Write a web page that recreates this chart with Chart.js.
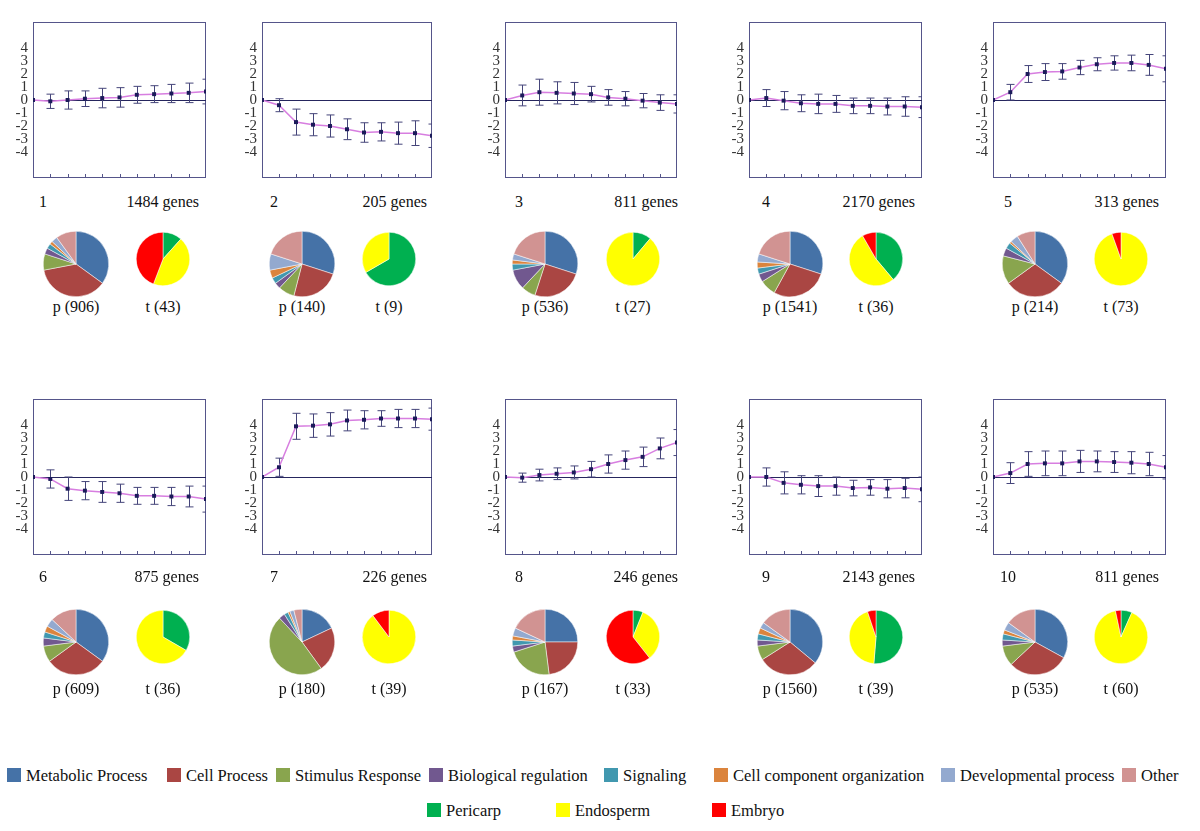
<!DOCTYPE html>
<html>
<head>
<meta charset="utf-8">
<script src="https://cdn.jsdelivr.net/npm/chart.js@4.4.1/dist/chart.umd.min.js"></script>
<style>
  body { margin: 0; background: #fff; width: 1200px; height: 831px; position: relative; overflow: hidden;
         font-family: "Liberation Serif", "Times New Roman", serif; color: #111; }
  canvas { position: absolute; }
  .lbl { position: absolute; font-size: 16px; line-height: 16px; white-space: nowrap; }
  .key { position: absolute; font-size: 16.5px; line-height: 16px; white-space: nowrap; }
  .key i { display: inline-block; width: 14px; height: 14px; margin-right: 5px; vertical-align: -1px; }
</style>
</head>
<body>
<script>
// === DATA ===
const clusterIds = [1, 2, 3, 4, 5, 6, 7, 8, 9, 10];
const geneCounts = [1484, 205, 811, 2170, 313, 875, 226, 246, 2143, 811];
const timePoints = [0, 1, 2, 3, 4, 5, 6, 7, 8, 9, 10];
const yTickLabels = [-4, -3, -2, -1, 0, 1, 2, 3, 4];

// mean log ratio per time point, and its error
const profile1 = [0, -0.1, 0, 0.1, 0.15, 0.2, 0.4, 0.45, 0.5, 0.55, 0.65];
const err1 = [0, 0.55, 0.7, 0.6, 0.75, 0.75, 0.65, 0.65, 0.7, 0.75, 0.95];
const profile2 = [0, -0.4, -1.7, -1.9, -2.0, -2.25, -2.5, -2.45, -2.55, -2.55, -2.75];
const err2 = [0, 0.5, 1.0, 0.85, 0.85, 0.8, 0.75, 0.7, 0.85, 0.95, 0.9];
const profile3 = [0, 0.35, 0.6, 0.55, 0.5, 0.45, 0.2, 0.1, -0.05, -0.2, -0.3];
const err3 = [0, 0.8, 1.0, 0.85, 0.85, 0.6, 0.6, 0.55, 0.55, 0.6, 0.7];
const profile4 = [0, 0.15, -0.05, -0.25, -0.3, -0.3, -0.45, -0.45, -0.5, -0.5, -0.55];
const err4 = [0, 0.65, 0.7, 0.65, 0.75, 0.65, 0.6, 0.6, 0.65, 0.75, 0.8];
const profile5 = [0, 0.6, 2.0, 2.15, 2.2, 2.5, 2.75, 2.85, 2.85, 2.7, 2.4];
const err5 = [0, 0.6, 0.65, 0.65, 0.6, 0.55, 0.5, 0.55, 0.6, 0.8, 1.0];
const profile6 = [0, -0.15, -0.9, -1.05, -1.15, -1.25, -1.45, -1.45, -1.5, -1.5, -1.7];
const err6 = [0, 0.7, 0.9, 0.7, 0.8, 0.7, 0.65, 0.65, 0.7, 0.8, 1.0];
const profile7 = [0, 0.75, 3.9, 3.95, 4.05, 4.35, 4.4, 4.5, 4.5, 4.5, 4.45];
const err7 = [0, 0.7, 1.0, 0.9, 0.9, 0.8, 0.7, 0.6, 0.7, 0.7, 0.85];
const profile8 = [0, -0.05, 0.15, 0.25, 0.35, 0.6, 1.0, 1.3, 1.55, 2.2, 2.65];
const err8 = [0, 0.35, 0.45, 0.45, 0.5, 0.6, 0.7, 0.7, 0.75, 0.8, 1.0];
const profile9 = [0, 0, -0.45, -0.6, -0.7, -0.7, -0.85, -0.8, -0.9, -0.85, -0.95];
const err9 = [0, 0.7, 0.85, 0.7, 0.8, 0.7, 0.6, 0.6, 0.7, 0.75, 0.95];
const profile10 = [0, 0.3, 1.0, 1.05, 1.05, 1.2, 1.2, 1.15, 1.1, 1.0, 0.75];
const err10 = [0, 0.8, 0.95, 0.95, 0.95, 0.85, 0.8, 0.8, 0.85, 0.9, 0.9];

// process pie: share (%) per category
const processNames = ["Metabolic Process", "Cell Process", "Stimulus Response", "Biological regulation",
  "Signaling", "Cell component organization", "Developmental process", "Other"];
const processColors = ["#4572A7", "#AA4643", "#89A54E", "#71588F", "#4198AF", "#DB843D", "#93A9CF", "#D19392"];
const pCounts = [906, 140, 536, 1541, 214, 609, 180, 167, 1560, 535];
const proc1 = [35, 37, 8, 3, 2.5, 1.5, 3, 10];
const proc2 = [30, 24, 8, 3, 3, 4, 8, 20];
const proc3 = [30, 25, 7, 10, 3, 2, 3, 20];
const proc4 = [30, 28, 8, 4, 3, 3, 4, 20];
const proc5 = [35, 30, 14, 4, 3, 1, 4, 9];
const proc6 = [35, 30, 8, 4, 3, 3, 4, 13];
const proc7 = [18, 22, 48, 3, 2, 1, 2, 4];
const proc8 = [25, 23, 22, 3, 3, 2, 4, 18];
const proc9 = [36, 30, 7, 3, 3, 3, 3, 15];
const proc10 = [33, 30, 10, 3, 3, 2, 4, 15];

// tissue pie: genes per tissue (Pericarp, Endosperm, Embryo)
const tissueNames = ["Pericarp", "Endosperm", "Embryo"];
const tissueColors = ["#00B050", "#FFFF00", "#FF0000"];
const tCounts = [43, 9, 27, 36, 73, 36, 39, 33, 39, 60];
const tissue1 = [5, 19, 19];
const tissue2 = [6, 3, 0];
const tissue3 = [3, 24, 0];
const tissue4 = [14, 19, 3];
const tissue5 = [0, 69, 4];
const tissue6 = [12, 24, 0];
const tissue7 = [0, 35, 4];
const tissue8 = [2, 11, 20];
const tissue9 = [20, 17, 2];
const tissue10 = [4, 54, 2];

const profiles = [profile1, profile2, profile3, profile4, profile5, profile6, profile7, profile8, profile9, profile10];
const errors = [err1, err2, err3, err4, err5, err6, err7, err8, err9, err10];
const procShares = [proc1, proc2, proc3, proc4, proc5, proc6, proc7, proc8, proc9, proc10];
const tissueShares = [tissue1, tissue2, tissue3, tissue4, tissue5, tissue6, tissue7, tissue8, tissue9, tissue10];

// === LAYOUT ===
const boxLeft = [33, 262, 505, 749, 993];
const boxWidth = [173, 170, 172, 173, 173];
const boxTop = [14, 391];
const boxHeight = 172;
const idLabelX = [43, 274, 519, 766, 1008];
const genesRight = [199, 427, 678, 915, 1159];
const captionY = [202, 577];
const pPieX = [76, 302, 545, 790, 1035];
const tPieX = [163, 389, 633, 876, 1121];
const pPieY = [264, 642];
const tPieY = [259, 637];
const pieLabelY = [307, 689];

const serif = '"Liberation Serif", "Times New Roman", serif';

// box, zero line, bottom ticks and error bars
const profileDecor = {
  id: "profileDecor",
  beforeDatasetsDraw(chart, args, opts) {
    const { ctx, chartArea: a, scales: { x, y } } = chart;
    ctx.save();
    ctx.strokeStyle = "#55558a";
    ctx.lineWidth = 1;
    ctx.strokeRect(a.left + 0.5, a.top + 0.5, a.width - 1, a.height - 1);
    const y0 = Math.round(y.getPixelForValue(0)) + 0.5;
    ctx.strokeStyle = "#26265e";
    ctx.beginPath(); ctx.moveTo(a.left, y0); ctx.lineTo(a.right, y0); ctx.stroke();
    ctx.strokeStyle = "#55558a";
    for (let i = 1; i < 10; i++) {
      const px = Math.round(x.getPixelForValue(i)) + 0.5;
      ctx.beginPath(); ctx.moveTo(px, a.bottom); ctx.lineTo(px, a.bottom - 4); ctx.stroke();
    }
    ctx.beginPath(); ctx.rect(a.left, a.top, a.width, a.height); ctx.clip();
    ctx.strokeStyle = "#45457a";
    const vals = chart.data.datasets[0].data;
    opts.errs.forEach((e, i) => {
      if (!e) return;
      const px = Math.round(x.getPixelForValue(vals[i].x)) + 0.5;
      const hi = y.getPixelForValue(vals[i].y + e), lo = y.getPixelForValue(vals[i].y - e);
      ctx.beginPath();
      ctx.moveTo(px, hi); ctx.lineTo(px, lo);
      ctx.moveTo(px - 4, hi); ctx.lineTo(px + 4, hi);
      ctx.moveTo(px - 4, lo); ctx.lineTo(px + 4, lo);
      ctx.stroke();
    });
    ctx.restore();
  }
};

function addText(text, x, y, align) {
  const d = document.createElement("div");
  d.className = "lbl";
  d.textContent = text;
  d.style.top = (y - 8) + "px";
  if (align === "right") { d.style.right = (1200 - x) + "px"; }
  else { d.style.left = x + "px"; d.style.transform = "translateX(-50%)"; }
  document.body.appendChild(d);
}

function makeCanvas(left, top, w, h) {
  const c = document.createElement("canvas");
  c.width = w; c.height = h;
  c.style.left = left + "px"; c.style.top = top + "px";
  c.style.width = w + "px"; c.style.height = h + "px";
  document.body.appendChild(c);
  return c;
}

function profileChart(k) {
  const col = k % 5, row = Math.floor(k / 5);
  const cv = makeCanvas(boxLeft[col] - 33, boxTop[row] - 6, boxWidth[col] + 39, boxHeight + 12);
  new Chart(cv, {
    type: "line",
    data: {
      datasets: [{
        data: timePoints.map((t, i) => ({ x: t, y: profiles[k][i] })),
        borderColor: "#d77ee0",
        borderWidth: 1.5,
        pointStyle: "rect",
        pointRadius: 2.8,
        pointBackgroundColor: "#1b1b5a",
        pointBorderColor: "#1b1b5a",
        pointBorderWidth: 0,
        tension: 0
      }]
    },
    options: {
      responsive: false,
      animation: false,
      events: [],
      layout: { padding: { top: 6, right: 6, bottom: 6, left: 0 } },
      plugins: { legend: { display: false }, tooltip: { enabled: false }, profileDecor: { errs: errors[k] } },
      scales: {
        x: { type: "linear", min: 0, max: 10, display: false },
        y: {
          min: -6, max: 6,
          afterBuildTicks: s => { s.ticks = yTickLabels.map(v => ({ value: v })); },
          afterFit: s => { s.width = 33; },
          grid: { display: false, drawTicks: false },
          border: { display: false },
          ticks: { autoSkip: false, padding: 5, color: "#333", font: { family: serif, size: 15 } }
        }
      }
    },
    plugins: [profileDecor]
  });
  addText(String(clusterIds[k]), idLabelX[col], captionY[row]);
  addText(geneCounts[k] + " genes", genesRight[col], captionY[row], "right");
}

function pieChart(cx, cy, size, values, colors) {
  const cv = makeCanvas(Math.round(cx - size / 2), Math.round(cy - size / 2), size, size);
  new Chart(cv, {
    type: "pie",
    data: { labels: values.map((v, i) => i), datasets: [{ data: values, backgroundColor: colors, borderWidth: 0.5, borderColor: "#ffffff" }] },
    options: {
      responsive: false, animation: false, events: [],
      layout: { padding: 0 },
      plugins: { legend: { display: false }, tooltip: { enabled: false } }
    }
  });
}

for (let k = 0; k < 10; k++) {
  const col = k % 5, row = Math.floor(k / 5);
  profileChart(k);
  pieChart(pPieX[col], pPieY[row], 66, procShares[k], processColors);
  pieChart(tPieX[col], tPieY[row], 54, tissueShares[k], tissueColors);
  addText("p (" + pCounts[k] + ")", pPieX[col], pieLabelY[row]);
  addText("t (" + tCounts[k] + ")", tPieX[col], pieLabelY[row]);
}

// === LEGEND ===
const processKeyX = [7, 167, 276, 429, 604, 714, 941, 1122];
const tissueKeyX = [427, 556, 712];
function addKey(name, color, x, y) {
  const d = document.createElement("div");
  d.className = "key";
  d.style.left = x + "px"; d.style.top = (y - 8) + "px";
  d.innerHTML = '<i style="background:' + color + '"></i>' + name;
  document.body.appendChild(d);
}
processNames.forEach((n, i) => addKey(n, processColors[i], processKeyX[i], 776));
tissueNames.forEach((n, i) => addKey(n, tissueColors[i], tissueKeyX[i], 811));
</script>
</body>
</html>
